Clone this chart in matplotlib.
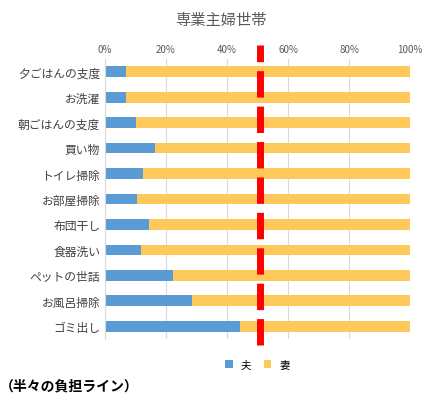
import matplotlib
matplotlib.use("Agg")
import matplotlib.pyplot as plt
plt.rcParams['font.family'] = ['Noto Sans CJK JP', 'DejaVu Sans']

categories = ["夕ごはんの支度","お洗濯","朝ごはんの支度","買い物","トイレ掃除","お部屋掃除","布団干し","食器洗い","ペットの世話","お風呂掃除","ゴミ出し"]
husband = [6.8, 6.8, 10.2, 16.5, 12.6, 10.5, 14.5, 11.8, 22.3, 28.6, 44.3]
wife = [100 - h for h in husband]
ticks = [0, 20, 40, 60, 80, 100]
tick_labels = ["0%", "20%", "40%", "60%", "80%", "100%"]
half_line = 50.8

fig = plt.figure(figsize=(4.41, 4.06), dpi=100)
ax = fig.add_axes([105/441, 1-340/406, 305/441, 280/406])
y = list(range(len(categories)))
ax.barh(y, husband, height=0.42, color="#5B9BD5", label="夫")
ax.barh(y, wife, left=husband, height=0.42, color="#FFC85A", label="妻")
ax.set_xlim(0, 100)
ax.set_ylim(len(categories) - 0.5, -0.5)
ax.set_yticks(y)
ax.set_yticklabels(categories, fontsize=8.5, color="#404040")
ax.set_xticks(ticks)
ax.set_xticklabels(tick_labels, fontsize=7, color="#595959")
ax.xaxis.tick_top()
ax.tick_params(length=0)
ax.grid(axis="x", color="#D9D9D9", lw=0.8)
ax.set_axisbelow(True)
for s in ax.spines.values():
    s.set_visible(False)
ax.spines["left"].set_visible(True)
ax.spines["left"].set_color("#D9D9D9")
ax.axvline(half_line, ymin=-0.02, ymax=1.05, color="red", lw=5, ls=(0, (3.8, 1.3)), clip_on=False)
fig.text(0.5, 1-20/406, "専業主婦世帯", ha="center", va="center", fontsize=11, color="#595959")
ax.legend(loc="upper center", bbox_to_anchor=(0.5, -0.04), ncol=2, frameon=False, fontsize=7.5,
          handlelength=0.7, handleheight=0.7, columnspacing=1.2)
fig.text(0.0, 1-386/406, "（半々の負担ライン）", ha="left", va="center", fontsize=10, fontweight="bold")
fig.savefig("out.png")
